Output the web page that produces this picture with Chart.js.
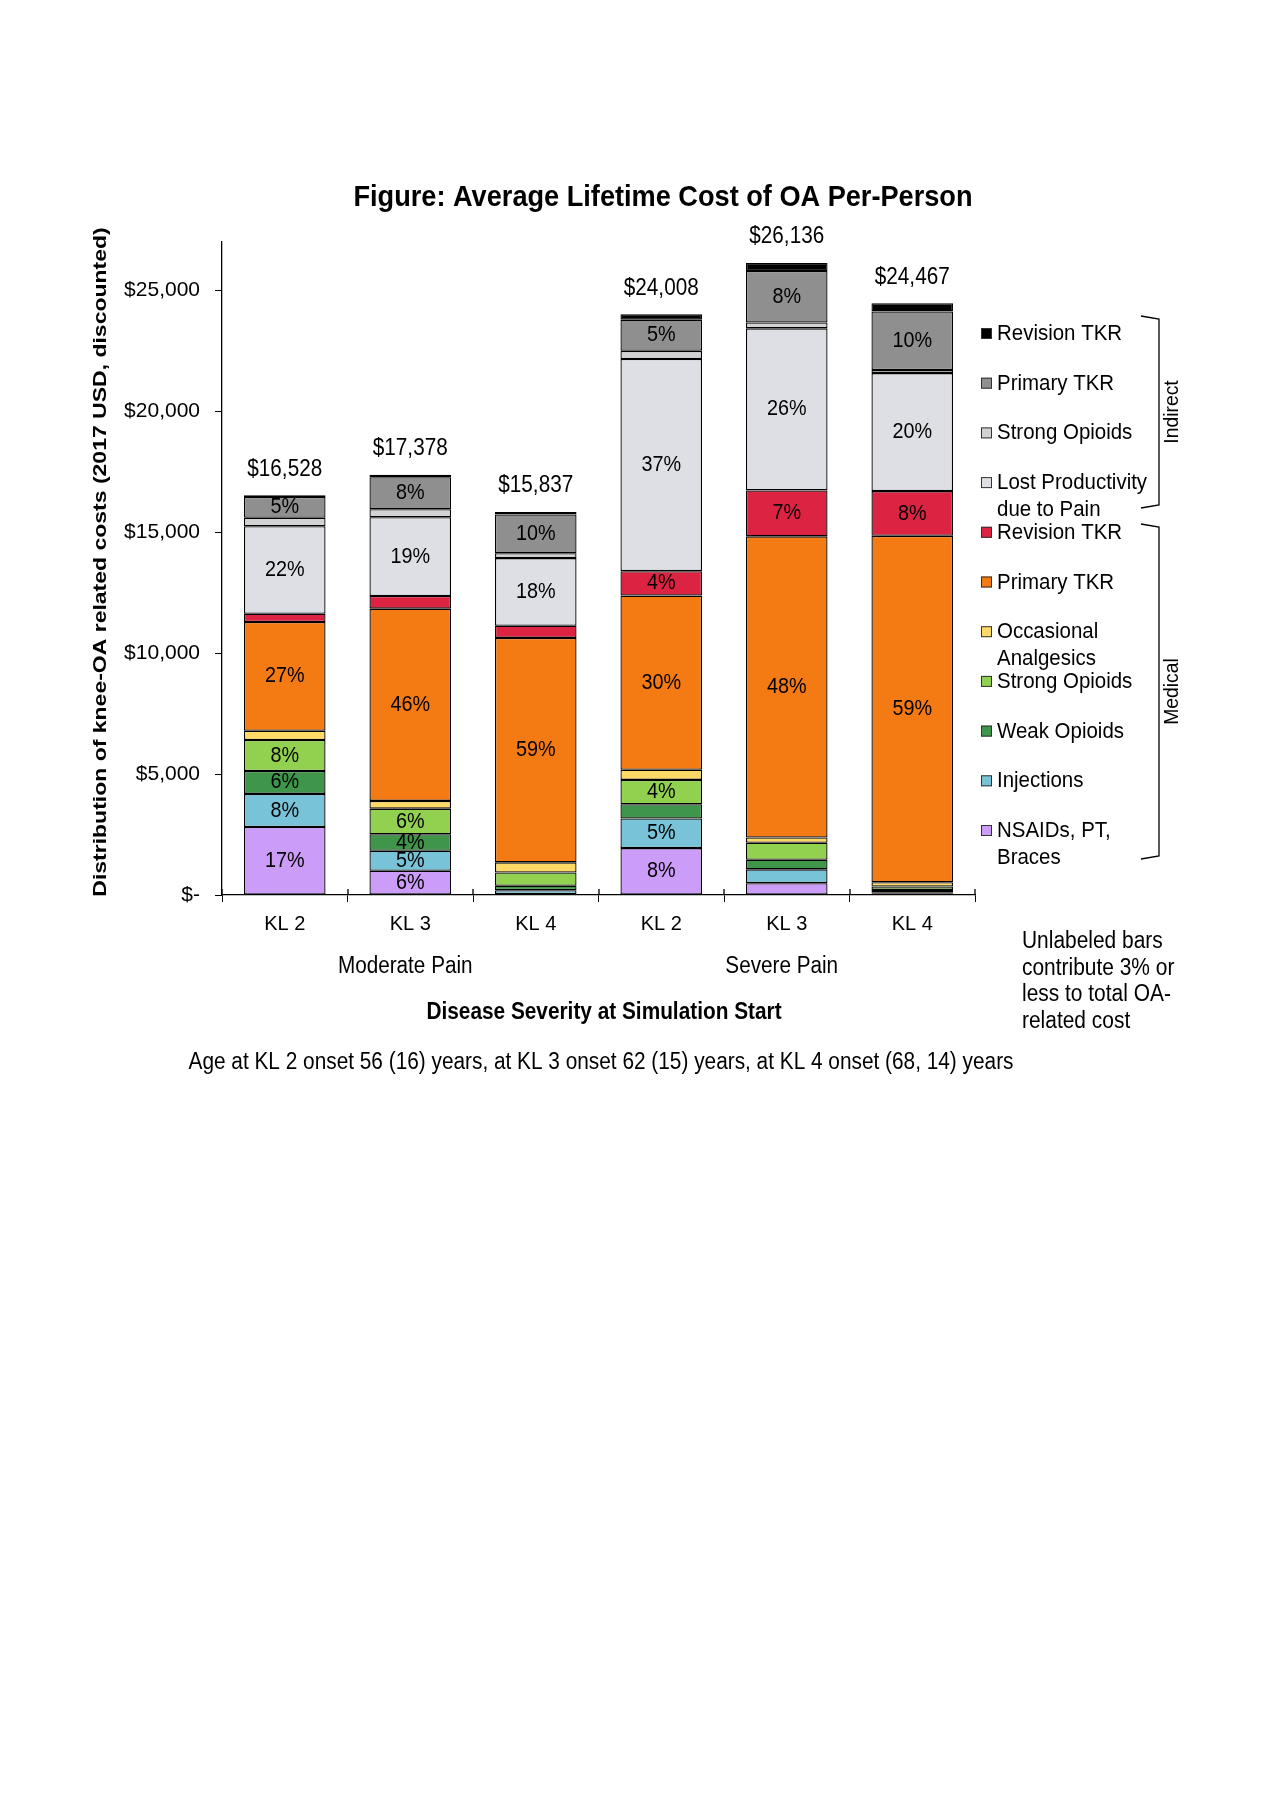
<!DOCTYPE html>
<html>
<head>
<meta charset="utf-8">
<script src="https://cdn.jsdelivr.net/npm/chart.js@4.4.0/dist/chart.umd.min.js"></script>
<style>
  html, body { margin: 0; padding: 0; background: #fff; }
  canvas { display: block; }
</style>
</head>
<body>
<canvas id="oaCostChart" width="1280" height="1813"></canvas>
<script>
const categories = ['KL 2', 'KL 3', 'KL 4', 'KL 2', 'KL 3', 'KL 4'];
const painGroups = ['Moderate Pain', 'Severe Pain'];
const yTicks = [0, 5000, 10000, 15000, 20000, 25000];

// medical costs (USD), bottom of the stack first
const nsaids = [2810, 1000, 40, 1940, 490, 50];
const injections = [1370, 830, 160, 1220, 570, 60];
const weakOpioids = [950, 680, 180, 590, 400, 100];
const strongOpioidsMed = [1280, 1060, 550, 1010, 700, 140];
const occAnalgesics = [380, 320, 420, 420, 220, 180];
const primaryTkrMed = [4500, 7950, 9280, 7200, 12450, 14320];
const revisionTkrMed = [340, 520, 500, 1010, 1900, 1850];
// indirect costs
const lostProductivity = [3620, 3260, 2800, 8770, 6700, 4880];
const strongOpioidsInd = [350, 330, 200, 340, 240, 130];
const primaryTkrInd = [860, 1320, 1600, 1290, 2130, 2420];
const revisionTkrInd = [68, 108, 107, 218, 336, 337];

const FONT = "'Liberation Sans', Arial, sans-serif";

const series = [
  { name: 'NSAIDs, PT,\nBraces', data: nsaids, color: '#CB9CF8' },
  { name: 'Injections', data: injections, color: '#79C3D9' },
  { name: 'Weak Opioids', data: weakOpioids, color: '#3F9549' },
  { name: 'Strong Opioids', data: strongOpioidsMed, color: '#92D050' },
  { name: 'Occasional\nAnalgesics', data: occAnalgesics, color: '#FFD966' },
  { name: 'Primary TKR', data: primaryTkrMed, color: '#F47A14' },
  { name: 'Revision TKR', data: revisionTkrMed, color: '#DC2442' },
  { name: 'Lost Productivity\ndue to Pain', data: lostProductivity, color: '#DEDFE4' },
  { name: 'Strong Opioids', data: strongOpioidsInd, color: '#D2D2D4' },
  { name: 'Primary TKR', data: primaryTkrInd, color: '#8F8F8F' },
  { name: 'Revision TKR', data: revisionTkrInd, color: '#000000' }
];

const totals = categories.map((c, i) => series.reduce((s, d) => s + d.data[i], 0));

function money(v) {
  return v === 0 ? '$-' : '$' + v.toLocaleString('en-US');
}

// condensed text: a normal font squeezed sideways, like the narrow face in the original
function txt(ctx, s, x, y, size, opt = {}) {
  ctx.save();
  ctx.translate(x, y);
  if (opt.rot) ctx.rotate(opt.rot);
  ctx.scale(opt.sx || 0.9, 1);
  ctx.font = (opt.bold ? 'bold ' : '') + size + 'px ' + FONT;
  ctx.textAlign = opt.align || 'center';
  ctx.textBaseline = 'middle';
  ctx.fillStyle = '#000';
  ctx.fillText(s, 0, 0);
  ctx.restore();
}

const decorations = {
  id: 'decorations',
  afterDatasetsDraw(chart) {
    const ctx = chart.ctx;
    const x = chart.scales.x;
    ctx.save();

    // tick marks of the category axis cross the axis line
    ctx.strokeStyle = '#000';
    ctx.lineWidth = 1.3;
    const step = (x.right - x.left) / categories.length;
    for (let k = 0; k <= categories.length; k++) {
      const px = Math.round(x.left + k * step);
      ctx.beginPath();
      ctx.moveTo(px, x.top - 6);
      ctx.lineTo(px, x.top);
      ctx.stroke();
    }

    // percentage labels inside segments (3% or less stay unlabeled)
    chart.data.datasets.forEach((ds, di) => {
      chart.getDatasetMeta(di).data.forEach((bar, i) => {
        const pct = Math.round(ds.data[i] / totals[i] * 100);
        if (pct >= 4) txt(ctx, pct + '%', bar.x, (bar.y + bar.base) / 2, 22, { sx: 0.9 });
      });
    });

    // totals above the bars
    const topMeta = chart.getDatasetMeta(chart.data.datasets.length - 1);
    topMeta.data.forEach((bar, i) => {
      txt(ctx, money(totals[i]), bar.x, bar.y - 26, 23, { sx: 0.9 });
    });

    // pain groups, axis titles, footnote
    painGroups.forEach((g, gi) => {
      const cx = (x.getPixelForValue(gi * 3) + x.getPixelForValue(gi * 3 + 2)) / 2;
      txt(ctx, g, cx - 5, 967, 23, { sx: 0.9 });
    });
    txt(ctx, 'Disease Severity at Simulation Start', 604, 1013, 23, { bold: true, sx: 0.905 });
    txt(ctx, 'Age at KL 2 onset 56 (16) years, at KL 3 onset 62 (15) years, at KL 4 onset (68, 14) years', 601, 1063, 23, { sx: 0.905 });

    txt(ctx, 'Figure: Average Lifetime Cost of OA Per-Person', 663, 198, 30, { bold: true, sx: 0.905 });

    // y title is drawn stretched along its length
    ctx.save();
    ctx.translate(101, 562);
    ctx.rotate(-Math.PI / 2);
    ctx.scale(1.21, 1);
    ctx.font = 'bold 19px ' + FONT;
    ctx.textAlign = 'center';
    ctx.textBaseline = 'middle';
    ctx.fillStyle = '#000';
    ctx.fillText('Distribution of knee-OA related costs (2017 USD, discounted)', 0, 0);
    ctx.restore();

    // legend, top of the stack first
    const rev = chart.data.datasets.slice().reverse();
    rev.forEach((ds, k) => {
      const y = 334 + k * 49.7;
      ctx.fillStyle = ds.backgroundColor;
      ctx.fillRect(981, y - 6, 11, 11);
      ctx.strokeStyle = '#333';
      ctx.lineWidth = 1;
      ctx.strokeRect(981.5, y - 5.5, 10, 10);
      series[series.length - 1 - k].name.split('\n').forEach((line, li) => {
        txt(ctx, line, 997, y + li * 27, 22, { sx: 0.93, align: 'left' });
      });
    });

    // brackets for indirect / medical groups
    ctx.strokeStyle = '#000';
    ctx.lineWidth = 1.3;
    [[316, 508, 'Indirect'], [524, 859, 'Medical']].forEach(([y0, y1, t]) => {
      ctx.beginPath();
      ctx.moveTo(1141, y0);
      ctx.lineTo(1159, y0 + 3);
      ctx.lineTo(1159, y1 - 3);
      ctx.lineTo(1141, y1);
      ctx.stroke();
      txt(ctx, t, 1172, (y0 + y1) / 2, 21, { rot: -Math.PI / 2, sx: 0.92 });
    });

    // note on unlabeled segments
    ['Unlabeled bars', 'contribute 3% or', 'less to total OA-', 'related cost'].forEach((line, li) => {
      txt(ctx, line, 1022, 942 + li * 26.5, 23, { sx: 0.91, align: 'left' });
    });
    ctx.restore();
  }
};

new Chart(document.getElementById('oaCostChart'), {
  type: 'bar',
  data: {
    labels: categories,
    datasets: series.map(s => ({
      label: s.name.replace('\n', ' '),
      data: s.data,
      backgroundColor: s.color,
      borderColor: '#000',
      borderWidth: 1.3,
      borderSkipped: false,
      barPercentage: 0.65,
      categoryPercentage: 1
    }))
  },
  options: {
    responsive: false,
    animation: false,
    devicePixelRatio: 1,
    layout: { padding: { left: 0, top: 242, right: 305, bottom: 858 } },
    plugins: {
      legend: { display: false },
      tooltip: { enabled: false }
    },
    scales: {
      x: {
        stacked: true,
        afterFit: s => { s.height = 60; },
        grid: { offset: true, drawOnChartArea: false, color: '#000', tickLength: 7 },
        border: { color: '#000', width: 1.3 },
        ticks: { color: '#000', font: { size: 20, family: FONT }, padding: 10 }
      },
      y: {
        stacked: true,
        min: 0,
        max: 27000,
        afterFit: s => { s.width = 222; },
        afterBuildTicks: s => { s.ticks = yTicks.map(v => ({ value: v })); },
        grid: { drawOnChartArea: false, color: '#000', tickLength: 7 },
        border: { color: '#000', width: 1.3 },
        ticks: { color: '#000', font: { size: 21, family: FONT }, padding: 15, callback: v => money(v) }
      }
    }
  },
  plugins: [decorations]
});
</script>
</body>
</html>
